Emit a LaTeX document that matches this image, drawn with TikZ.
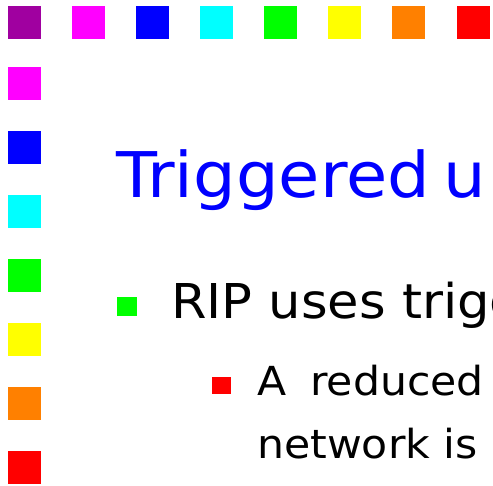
\documentclass[tikz,border=0pt]{standalone}
\usepackage{fontspec}
\setmainfont[FakeStretch=1.065]{DejaVu Sans}
\definecolor{sqpurple}{RGB}{160,0,160}
\definecolor{sqmagenta}{RGB}{255,0,255}
\definecolor{sqblue}{RGB}{0,0,255}
\definecolor{sqcyan}{RGB}{0,255,255}
\definecolor{sqgreen}{RGB}{0,255,0}
\definecolor{sqyellow}{RGB}{255,255,0}
\definecolor{sqorange}{RGB}{255,128,0}
\definecolor{sqred}{RGB}{255,0,0}
\tikzset{
  tile/.style={fill=#1, draw=none},
  titletext/.style={anchor=base west, inner sep=0pt, text=sqblue, font=\fontsize{63}{70}\selectfont},
  firsttext/.style={anchor=base west, inner sep=0pt, text=black, font=\fontsize{48}{56}\selectfont},
  secondtext/.style={anchor=base west, inner sep=0pt, text=black, font=\fontsize{40}{48}\selectfont},
}
\begin{document}
\begin{tikzpicture}[x=1pt,y=-1pt]
  \useasboundingbox (0,0) rectangle (493,486);
  \clip (0,0) rectangle (493,486);
  \fill[white] (0,0) rectangle (493,486);
  % top row of tiles
  \foreach \c [count=\i from 0] in {sqpurple,sqmagenta,sqblue,sqcyan,sqgreen,sqyellow,sqorange}
    \fill[tile=\c] (8+64*\i,6) rectangle ++(33,33);
  \fill[tile=sqred] (457,6) rectangle ++(33,33);
  % left column of tiles
  \foreach \c [count=\i from 0] in {sqmagenta,sqblue,sqcyan,sqgreen,sqyellow,sqorange,sqred}
    \fill[tile=\c] (8,67+64*\i) rectangle ++(33,33);
  % title
  \node[titletext] (title) at (116,198) {Triggered\hspace{14pt}u};
  % first-level bullet
  \fill[sqgreen] (117,297) rectangle (137,316);
  \node[firsttext] (item) at (171,319) {RIP uses trigg};
  % second-level bullet
  \fill[sqred] (212,377) rectangle (231,394);
  \node[secondtext] (sub1) at (257,396) {A\hspace{24pt}reduced};
  \node[secondtext] (sub2) at (257,458) {network is};
\end{tikzpicture}
\end{document}
